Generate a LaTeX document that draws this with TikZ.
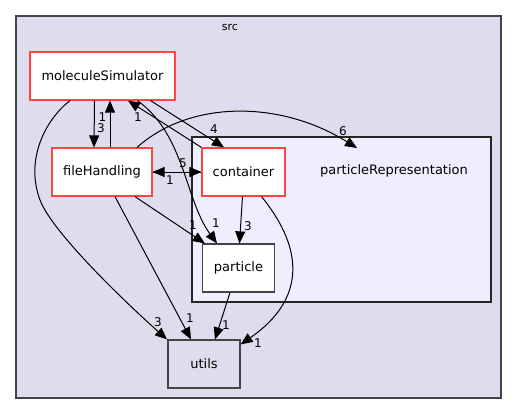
\documentclass[tikz,border=0pt]{standalone}
\usepackage{fontspec}
\setmainfont{DejaVu Sans}
\usetikzlibrary{arrows.meta}
\definecolor{srcbg}{RGB}{221,221,238}
\definecolor{reprbg}{RGB}{238,238,255}
\definecolor{framegray}{RGB}{68,68,68}
\definecolor{depred}{RGB}{255,68,68}
\tikzset{
	dirbox/.style={draw=framegray,line width=1.2pt,fill=white,inner sep=0pt,font=\fontsize{13}{15}\selectfont},
	redbox/.style={dirbox,draw=depred},
	dep/.style={line width=1pt,-{Triangle[length=12pt,width=10pt]}},
	lbl/.style={inner sep=0pt,font=\fontsize{12}{14}\selectfont}
}
\begin{document}
\begin{tikzpicture}[x=1pt,y=-1pt]
			\useasboundingbox (0,0) rectangle (517,415);
			\draw[draw=framegray,line width=1.2pt,fill=srcbg] (16,16) rectangle (501,398);
			\node[lbl,font=\fontsize{11}{13}\selectfont] (srclbl) at (230,27) {src};
			\draw[draw=black!85,line width=1.2pt,fill=reprbg] (192,137) rectangle (491,302);
			\node[inner sep=0pt,font=\fontsize{13}{15}\selectfont] (repr) at (394,171) {particleRepresentation};
			\coordinate (reprtip) at (357,148);
			
			\node[redbox,minimum width=145pt,minimum height=48pt] (molsim) at (102.5,76) {moleculeSimulator};
			\node[redbox,minimum width=100pt,minimum height=48pt] (filehand) at (102,172) {fileHandling};
			\node[redbox,minimum width=83pt,minimum height=48pt] (container) at (243.5,172) {container};
			\node[dirbox,minimum width=72pt,minimum height=48pt] (particle) at (238.5,268) {particle};
			\node[dirbox,fill=srcbg,minimum width=72pt,minimum height=48pt] (utils) at (204,364) {utils};
			
			\draw[dep] ([xshift=-8]molsim.south) -- ([xshift=-8]filehand.north);
			\draw[dep] ([xshift=8]filehand.north) -- ([xshift=7.5]molsim.south);
			\draw[dep] ([xshift=48]molsim.south) -- ([xshift=-19.5]container.north);
			\draw[dep] (container.north west) -- ([xshift=25.5]molsim.south);
			\draw[dep] ([xshift=35]molsim.south) .. controls (185,135) and (185,200) .. ([xshift=-21.5]particle.north);
			\draw[dep] ([xshift=-32.5]molsim.south) .. controls (45,120) and (25,160) .. (40,200) .. controls (52,232) and (125,302) .. ([xshift=-37]utils.north);
			\draw[dep] ([xshift=35]filehand.north) .. controls (190,100) and (280,100) .. (reprtip);
			\draw[dep] (filehand.east) -- (container.west);
			\draw[dep] (container.west) -- (filehand.east);
			\draw[dep] ([xshift=33]filehand.south) -- ([xshift=3]particle.north west);
			\draw[dep] ([xshift=13]filehand.south) -- ([xshift=-13]utils.north);
			\draw[dep] ([xshift=-1]container.south) -- ([xshift=1]particle.north);
			\draw[dep] ([xshift=18]container.south) .. controls (305,250) and (305,300) .. ([yshift=-5]utils.north east);
			\draw[dep] ([xshift=-8.5]particle.south) -- ([xshift=11]utils.north);
			
			\node[lbl] (l1) at (101,128) {3};
			\node[lbl] (l2) at (102.5,117) {1};
			\node[lbl] (l3) at (214,129) {4};
			\node[lbl] (l4) at (138,117) {1};
			\node[lbl] (l5) at (216,223) {1};
			\node[lbl] (l6) at (158,322) {3};
			\node[lbl] (l7) at (343,131) {6};
			\node[lbl] (l8) at (183,163) {5};
			\node[lbl] (l9) at (170,180) {1};
			\node[lbl] (l10) at (193,225) {1};
			\node[lbl] (l11) at (190,318) {1};
			\node[lbl] (l12) at (248,226) {3};
			\node[lbl] (l13) at (258,343) {1};
			\node[lbl] (l14) at (226,325) {1};
		\end{tikzpicture}
\end{document}
